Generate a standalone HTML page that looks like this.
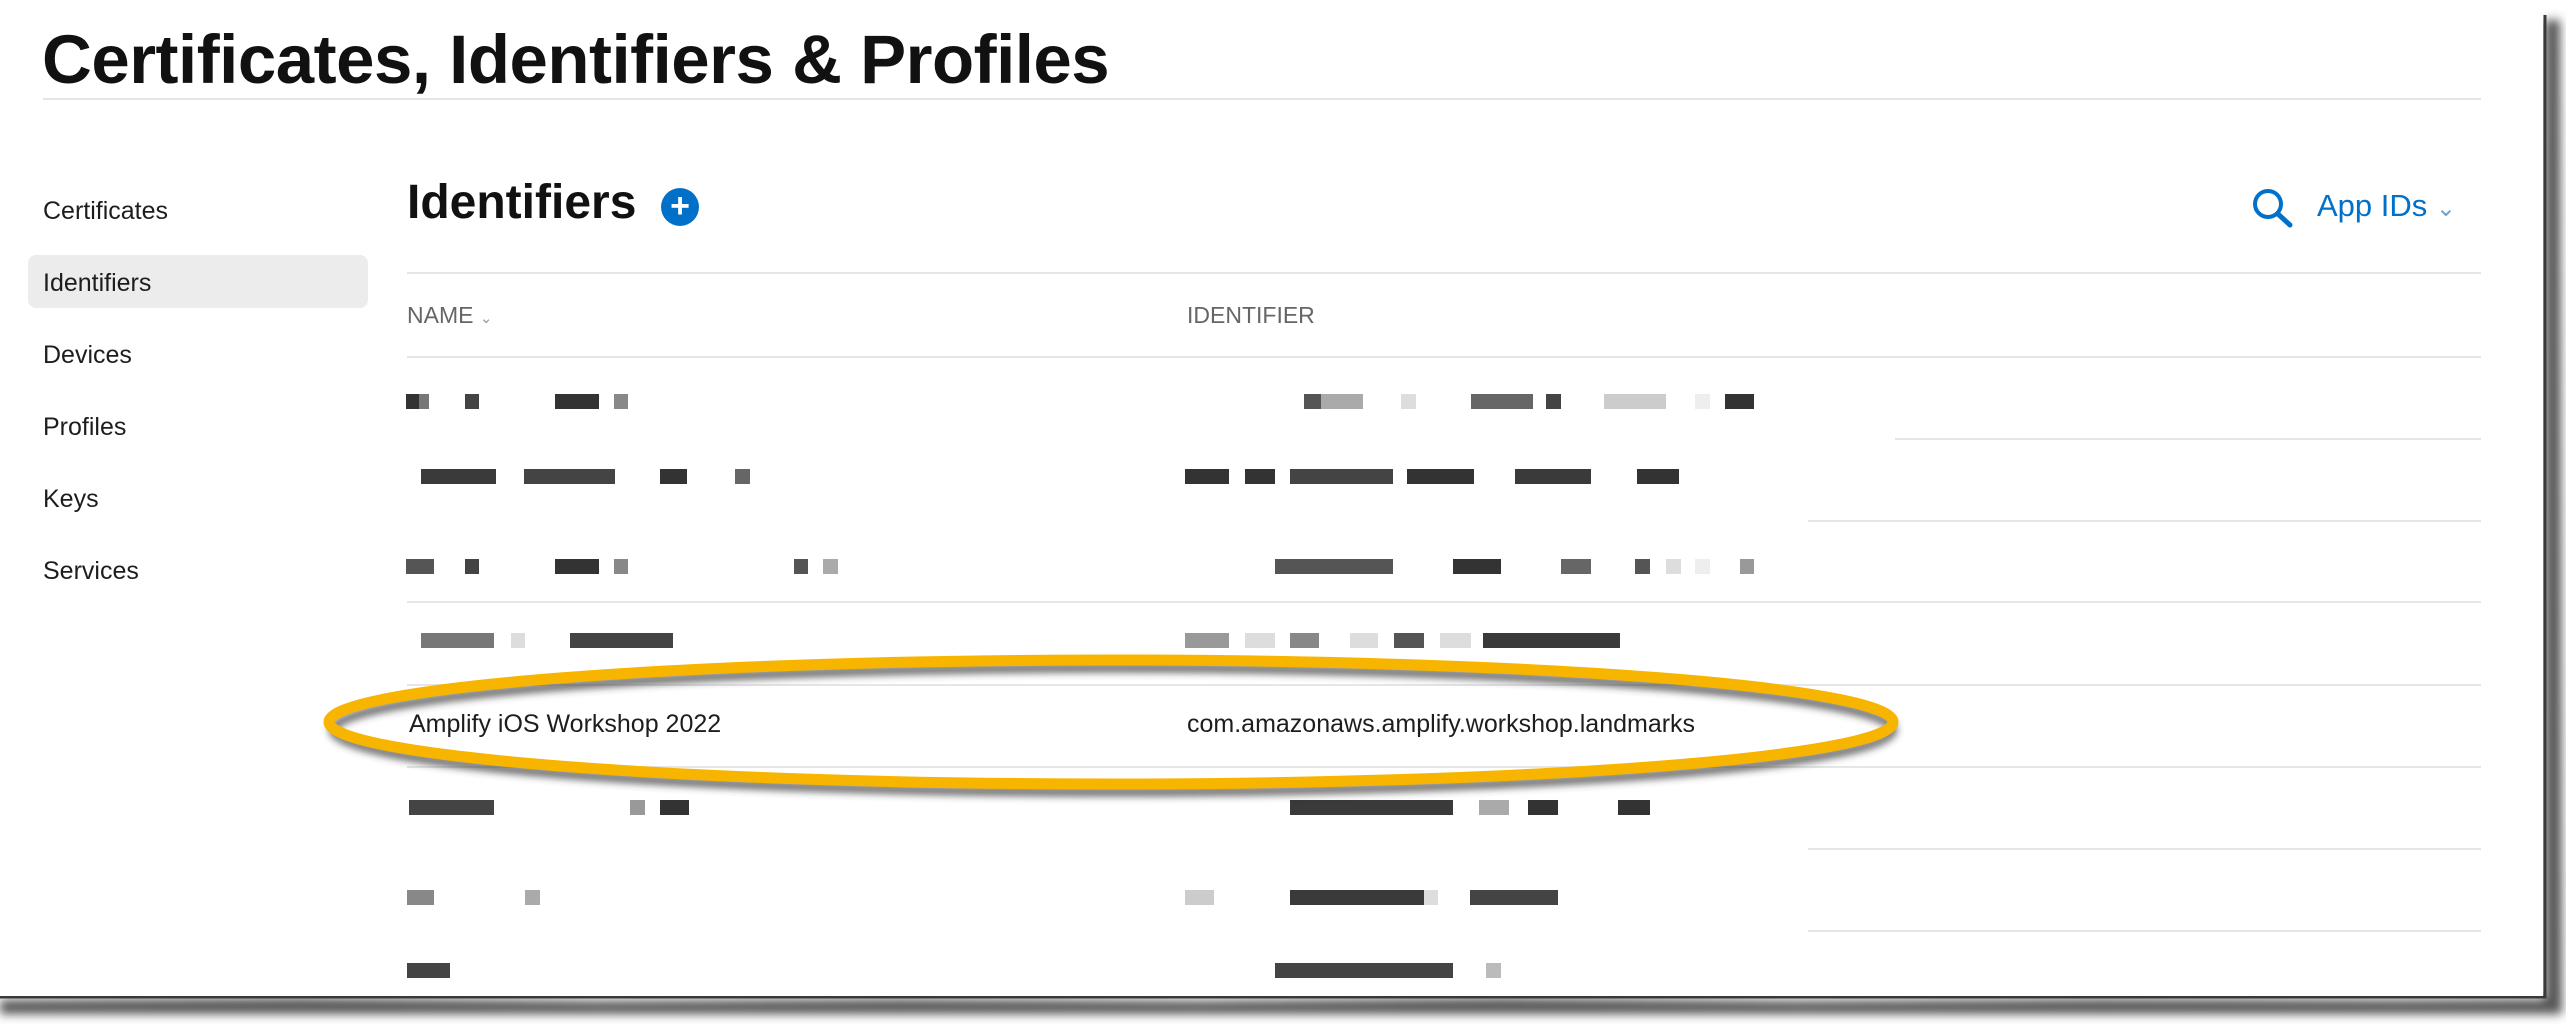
<!DOCTYPE html>
<html><head><meta charset="utf-8">
<style>
html,body{margin:0;padding:0;background:#fff;}
body{width:2566px;height:1024px;position:relative;overflow:hidden;font-family:"Liberation Sans",sans-serif;}
.abs{position:absolute;}
.side{position:absolute;left:43px;font-size:25px;color:#1d1d1f;line-height:30px;}
.hl{position:absolute;height:2px;background:#e6e6e6;}
.blk{position:absolute;height:15px;}
</style></head>
<body>
<svg class="abs" style="left:0;top:0" width="2566" height="1024">
<defs><filter id="bl" x="-5%" y="-50%" width="110%" height="200%"><feGaussianBlur stdDeviation="5"/></filter></defs>
<path d="M0,1000 L300,998 L600,1001 L900,999 L1200,1001 L1500,998 L1800,1001 L2100,999 L2400,1000 L2545,999 L2545,20 L2560,20 L2562,1014 L0,1014 Z" fill="#555" filter="url(#bl)"/>
<path d="M0,997 L2545,997 L2545,15" fill="none" stroke="#3a3a3a" stroke-width="3"/>
<rect x="0" y="0" width="2543" height="996" fill="#fff"/>
</svg>

<div class="abs" style="left:42px;top:20px;font-size:69px;font-weight:bold;color:#111;letter-spacing:-0.5px;">Certificates, Identifiers &amp; Profiles</div>
<div class="hl" style="left:43px;top:98px;width:2438px;"></div>

<div class="abs" style="left:28px;top:255px;width:340px;height:53px;background:#ececec;border-radius:8px;"></div>
<div class="side" style="top:196px">Certificates</div>
<div class="side" style="top:268px">Identifiers</div>
<div class="side" style="top:340px">Devices</div>
<div class="side" style="top:412px">Profiles</div>
<div class="side" style="top:484px">Keys</div>
<div class="side" style="top:556px">Services</div>

<div class="abs" style="left:407px;top:175px;font-size:48px;font-weight:bold;color:#111;">Identifiers</div>
<div class="abs" style="left:661px;top:188px;width:38px;height:38px;border-radius:50%;background:#0070c9;color:#fff;font-size:34px;font-weight:bold;line-height:36px;text-align:center;">+</div>

<svg class="abs" style="left:2250px;top:186px" width="50" height="48">
<circle cx="18" cy="18" r="13" fill="none" stroke="#0070c9" stroke-width="4"/>
<line x1="28" y1="28" x2="40" y2="39" stroke="#0070c9" stroke-width="5" stroke-linecap="round"/>
</svg>
<div class="abs" style="left:2317px;top:188px;font-size:31px;color:#0070c9;">App IDs <span style="font-size:24px;color:#6aa6dc;">&#8964;</span></div>

<div class="hl" style="left:407px;top:272px;width:2074px;"></div>
<div class="abs" style="left:407px;top:302px;font-size:23px;color:#666;">NAME <span style="font-size:15px;color:#999">&#8964;</span></div>
<div class="abs" style="left:1187px;top:302px;font-size:23px;color:#666;">IDENTIFIER</div>

<div class="hl" style="left:407px;top:356px;width:2074px;"></div>
<div class="hl" style="left:1895px;top:438px;width:586px;"></div>
<div class="hl" style="left:1808px;top:520px;width:673px;"></div>
<div class="hl" style="left:407px;top:601px;width:2074px;"></div>
<div class="hl" style="left:407px;top:684px;width:2074px;"></div>
<div class="hl" style="left:407px;top:766px;width:2074px;"></div>
<div class="hl" style="left:1808px;top:848px;width:673px;"></div>
<div class="hl" style="left:1808px;top:930px;width:673px;"></div>

<div class="abs" style="left:409px;top:710px;font-size:25px;color:#1d1d1f;">Amplify iOS Workshop 2022</div>
<div class="abs" style="left:1187px;top:710px;font-size:25px;color:#1d1d1f;">com.amazonaws.amplify.workshop.landmarks</div>

<div id="blocks"></div>

<svg class="abs" style="left:0;top:0" width="2566" height="1024">
<defs><filter id="sh" x="-10%" y="-50%" width="120%" height="200%"><feGaussianBlur stdDeviation="4"/></filter></defs>
<ellipse cx="1113" cy="730" rx="780" ry="62" fill="none" stroke="#333" stroke-width="8" filter="url(#sh)" opacity="0.8"/>
<ellipse cx="1111" cy="722" rx="782" ry="62" fill="none" stroke="#f7b500" stroke-width="11"/>
</svg>

<script>
const S = 1.6365;
const rowsY = [245, 291, 346, 391, 493, 548, 593];
const rowBlocks = [
 [[248,8,'#333'],[256,6,'#777'],[284,9,'#444'],[339,27,'#333'],[375,9,'#888'],[797,10,'#555'],[807,26,'#aaa'],[856,9,'#ddd'],[899,38,'#666'],[945,9,'#444'],[980,38,'#ccc'],[1036,9,'#eee'],[1054,18,'#333']],
 [[257,46,'#3a3a3a'],[320,56,'#444'],[403,17,'#333'],[449,9,'#666'],[724,27,'#333'],[761,18,'#333'],[788,63,'#444'],[860,41,'#333'],[926,46,'#3a3a3a'],[1000,26,'#333']],
 [[248,17,'#555'],[284,9,'#444'],[339,27,'#333'],[375,9,'#888'],[485,9,'#555'],[503,9,'#aaa'],[779,72,'#555'],[888,29,'#333'],[954,18,'#666'],[999,9,'#555'],[1018,9,'#ddd'],[1036,9,'#eee'],[1063,9,'#999']],
 [[257,45,'#777'],[312,9,'#ddd'],[348,63,'#444'],[724,27,'#999'],[761,18,'#ddd'],[788,18,'#888'],[825,17,'#ddd'],[852,18,'#555'],[880,19,'#ddd'],[906,84,'#3a3a3a']],
 [[250,52,'#444'],[385,9,'#999'],[403,18,'#333'],[788,100,'#3a3a3a'],[904,18,'#aaa'],[934,18,'#333'],[989,19,'#333']],
 [[249,16,'#888'],[321,9,'#aaa'],[724,18,'#ccc'],[788,82,'#3a3a3a'],[870,9,'#ddd'],[898,54,'#444']],
 [[249,26,'#444'],[779,109,'#444'],[908,9,'#bbb']]
];
const cont = document.getElementById('blocks');
rowBlocks.forEach((row, i) => {
  row.forEach(b => {
    const d = document.createElement('div');
    d.className = 'blk';
    
    
    d.style.left = (b[0]*S) + 'px';
    d.style.width = (b[1]*S) + 'px';
    d.style.top = (rowsY[i]*S - 7) + 'px';
    d.style.background = b[2];
    cont.appendChild(d);
  });
});
</script>
</body></html>
